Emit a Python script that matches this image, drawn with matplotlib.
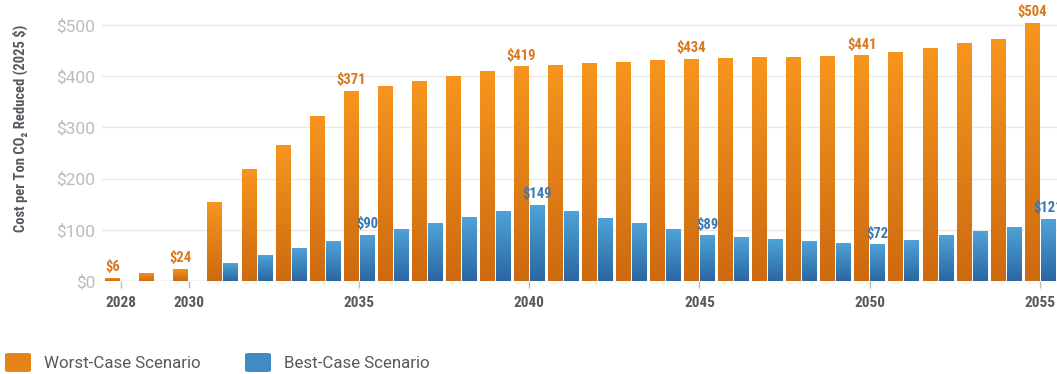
import numpy as np
import matplotlib
matplotlib.use("Agg")
import matplotlib.pyplot as plt
from matplotlib.colors import LinearSegmentedColormap
from matplotlib.patches import FancyBboxPatch

# data
years = list(range(2028, 2056))
worst = [6, 16, 24, 154, 219, 266, 322, 371, 381, 390, 400, 410, 419, 422,
         425, 428, 432, 434, 436, 437, 438, 439, 441, 448, 456, 464, 472, 504]
best = [0, 0, 0, 35, 51, 64, 78, 90, 102, 113, 125, 137, 149, 137,
        124, 113, 101, 89, 85, 82, 78, 75, 72, 80, 89, 98, 106, 121]
tick_years = [2028, 2030, 2035, 2040, 2045, 2050, 2055]
worst_labelled = [2028, 2030, 2035, 2040, 2045, 2050, 2055]
best_labelled = [2035, 2040, 2045, 2050, 2055]

narrow = ['Roboto Condensed', 'Roboto', 'DejaVu Sans']
plain = ['Roboto', 'DejaVu Sans']

orange_cm = LinearSegmentedColormap.from_list('o', ['#cd6a10', '#f7951f'])
blue_cm = LinearSegmentedColormap.from_list('b', ['#2b67a2', '#4ea3d8'])

fig = plt.figure(figsize=(10.57, 3.74), dpi=100)
ax = fig.add_axes([102/1057, (374-281)/374, 1 - 102/1057, 276.5/374])

def grad_bars(xs, hs, offset, cmap):
    bars = ax.bar(np.array(xs) + offset, hs, width=0.43, color='none',
                  edgecolor='none', zorder=3)
    for b in bars:
        if b.get_height() <= 0:
            continue
        x0, w, h = b.get_x(), b.get_width(), b.get_height()
        grad = np.linspace(0, 1, 100).reshape(-1, 1)
        im = ax.imshow(grad, cmap=cmap, origin='lower', aspect='auto',
                       extent=[x0, x0 + w, 0, h], zorder=3)
        im.set_clip_path(b)
    return bars

grad_bars(years, worst, -0.235, orange_cm)
grad_bars(years, best, 0.235, blue_cm)
ax.set_xlim(2027.452, 2055.5)
ax.set_ylim(0, 540)

for y, v in zip(years, worst):
    if y in worst_labelled:
        ax.text(y - 0.235, v + 7, f'${v}', ha='center', va='bottom',
                color='#d9771c', fontsize=10.5, fontweight='bold',
                family=narrow, zorder=4)
for y, v in zip(years, best):
    if y in best_labelled:
        ax.text(y + 0.235, v + 7, f'${v}', ha='center', va='bottom',
                color='#3a78b3', fontsize=10.5, fontweight='bold',
                family=narrow, zorder=4, clip_on=False)

ax.set_yticks([0, 100, 200, 300, 400, 500])
ax.set_yticklabels([f'${v}' for v in [0, 100, 200, 300, 400, 500]])
ax.grid(axis='y', color='#e9e9e9', lw=1, zorder=0)
ax.set_xticks(tick_years)
ax.set_xticklabels([str(t) for t in tick_years])
for s in ax.spines.values():
    s.set_visible(False)
ax.axhline(0, color='#dddddd', lw=1, zorder=2)
ax.tick_params(axis='y', length=0, pad=5, labelsize=12.5, labelcolor='#bcbcbc')
ax.tick_params(axis='x', length=5, width=1, color='#bbbbbb', pad=6,
               labelsize=11, labelcolor='#555a60')
for t in ax.get_xticklabels():
    t.set_fontweight('bold')
    t.set_family(narrow)
for t in ax.get_yticklabels():
    t.set_family(plain)

fig.text(20/1057, 1 - 128/374, 'Cost per Ton CO₂ Reduced (2025 $)', rotation=90,
         ha='center', va='center', fontsize=10.5, fontweight='bold',
         color='#555a60', family=narrow)

# legend
for x0, cm, label in [(5, orange_cm, 'Worst-Case Scenario'),
                      (245, blue_cm, 'Best-Case Scenario')]:
    box = FancyBboxPatch((x0/1057, 1 - 372/374), 26/1057, 19/374,
                         boxstyle='round,pad=0,rounding_size=0.004',
                         transform=fig.transFigure, facecolor=cm(0.6),
                         edgecolor='none')
    fig.patches.append(box)
    fig.text((x0 + 39)/1057, 1 - 364/374, label, ha='left', va='center',
             fontsize=12.2, color='#555a60', family=plain)

fig.savefig('out.png', dpi=100)
